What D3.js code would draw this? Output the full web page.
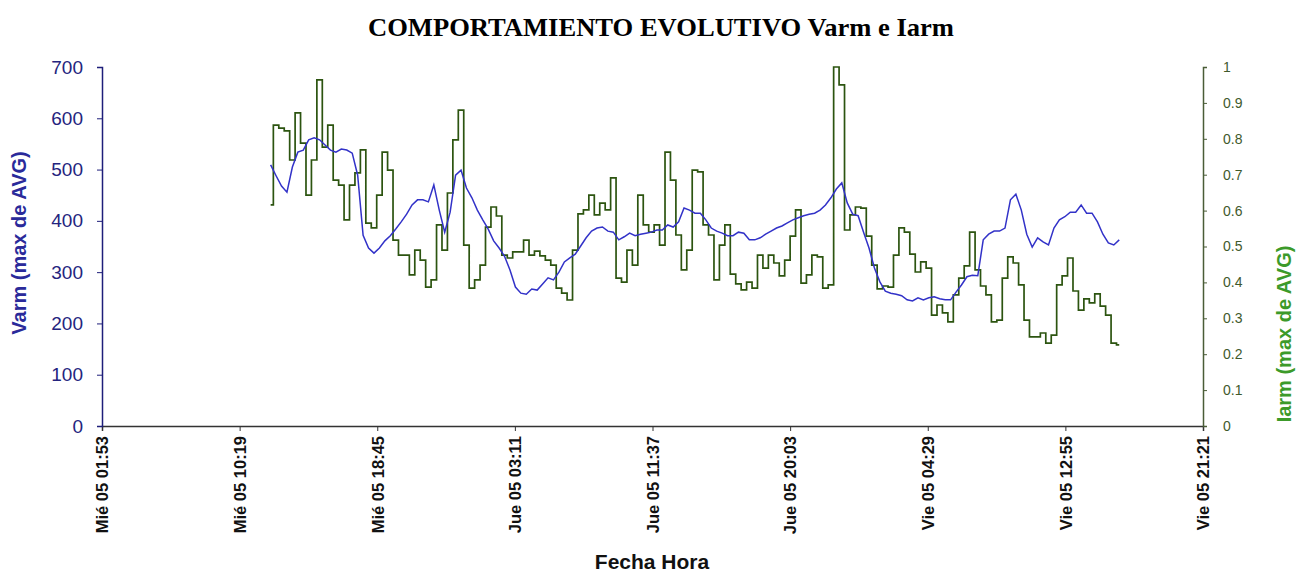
<!DOCTYPE html>
<html>
<head>
<meta charset="utf-8">
<script src="https://cdn.jsdelivr.net/npm/d3@7"></script>
<style>
  body { margin: 0; background: #fff; }
  text { font-family: "Liberation Sans", Arial, sans-serif; }
</style>
</head>
<body>
<svg width="1306" height="573"></svg>
<script>
// x axis ticks (labels as printed on the chart)
const tickLabels = ["Mié 05 01:53", "Mié 05 10:19", "Mié 05 18:45", "Jue 05 03:11", "Jue 05 11:37",
                    "Jue 05 20:03", "Vie 05 04:29", "Vie 05 12:55", "Vie 05 21:21"];
const tickTimes = ["2008-05-07 01:53", "2008-05-07 10:19", "2008-05-07 18:45", "2008-05-08 03:11", "2008-05-08 11:37",
                   "2008-05-08 20:03", "2008-05-09 04:29", "2008-05-09 12:55", "2008-05-09 21:21"];

// samples every 20 minutes, starting here
const seriesStart = "2008-05-07 12:13";
const stepMinutes = 20;

// Varm (max de AVG)
const varm = [509, 488, 468, 456, 505, 534, 538, 558, 562, 558, 548, 538, 534, 540, 538, 532, 489, 372, 347, 337,
              347, 361, 371, 384, 398, 413, 431, 441, 441, 437, 470, 421, 378, 417, 489, 499, 464, 445, 421, 402,
              384, 361, 347, 331, 304, 271, 259, 257, 267, 265, 277, 289, 285, 300, 320, 328, 335, 351, 367, 380,
              386, 388, 380, 378, 363, 369, 376, 371, 374, 376, 378, 382, 382, 392, 388, 398, 425, 421, 415, 415,
              402, 386, 380, 376, 371, 371, 378, 376, 363, 363, 367, 374, 380, 386, 390, 396, 402, 406, 410, 413,
              415, 421, 431, 445, 462, 474, 435, 413, 410, 378, 347, 308, 281, 263, 259, 257, 254, 246, 244, 250,
              246, 250, 252, 248, 246, 246, 261, 275, 291, 294, 293, 363, 374, 380, 380, 386, 441, 452, 421, 374,
              349, 367, 359, 353, 386, 402, 408, 417, 417, 431, 415, 415, 398, 374, 357, 353, 363];

// Iarm (max de AVG)
const iarm = [0.616, 0.838, 0.830, 0.822, 0.741, 0.872, 0.788, 0.643, 0.741, 0.964, 0.777, 0.838, 0.685, 0.671, 0.574,
              0.671, 0.705, 0.769, 0.565, 0.552, 0.643, 0.763, 0.713, 0.518, 0.476, 0.476, 0.421, 0.490, 0.462, 0.387,
              0.407, 0.560, 0.490, 0.649, 0.797, 0.880, 0.504, 0.384, 0.407, 0.448, 0.554, 0.610, 0.585, 0.476, 0.468,
              0.485, 0.485, 0.518, 0.476, 0.487, 0.474, 0.462, 0.448, 0.384, 0.370, 0.351, 0.490, 0.591, 0.602, 0.643,
              0.588, 0.621, 0.602, 0.691, 0.412, 0.401, 0.490, 0.448, 0.643, 0.560, 0.540, 0.560, 0.504, 0.763, 0.685,
              0.532, 0.435, 0.490, 0.713, 0.708, 0.560, 0.532, 0.407, 0.504, 0.560, 0.423, 0.396, 0.379, 0.401, 0.384,
              0.476, 0.440, 0.476, 0.454, 0.418, 0.462, 0.529, 0.602, 0.398, 0.421, 0.476, 0.471, 0.384, 0.393, 1.000,
              0.950, 0.546, 0.588, 0.610, 0.607, 0.529, 0.448, 0.382, 0.390, 0.387, 0.476, 0.552, 0.540, 0.479, 0.429,
              0.457, 0.440, 0.309, 0.337, 0.315, 0.290, 0.365, 0.412, 0.446, 0.540, 0.435, 0.390, 0.365, 0.290, 0.295,
              0.412, 0.471, 0.454, 0.393, 0.295, 0.248, 0.248, 0.259, 0.231, 0.253, 0.393, 0.418, 0.468, 0.376, 0.323,
              0.354, 0.343, 0.368, 0.334, 0.309, 0.231, 0.226];

const varmTicks = [0, 100, 200, 300, 400, 500, 600, 700];
const iarmTicks = [0, 0.1, 0.2, 0.3, 0.4, 0.5, 0.6, 0.7, 0.8, 0.9, 1];

const svg = d3.select("svg");
const margin = {left: 102, right: 103, top: 67, bottom: 147};
const width = +svg.attr("width"), height = +svg.attr("height");
const parse = d3.timeParse("%Y-%m-%d %H:%M");
const ticks = tickTimes.map(parse);
const t0 = parse(seriesStart);
const timeAt = i => d3.timeMinute.offset(t0, i * stepMinutes);

const x = d3.scaleTime()
    .domain([ticks[0], ticks[ticks.length - 1]])
    .range([margin.left, width - margin.right]);
const y = d3.scaleLinear().domain([0, 700]).range([height - margin.bottom, margin.top]);
const y2 = d3.scaleLinear().domain([0, 1]).range([height - margin.bottom, margin.top]);

// title
svg.append("text")
    .attr("x", 661).attr("y", 36)
    .attr("text-anchor", "middle")
    .style("font-family", "'Liberation Serif', 'Times New Roman', serif")
    .style("font-weight", "bold").style("font-size", "25px")
    .attr("textLength", 586).attr("lengthAdjust", "spacingAndGlyphs")
    .text("COMPORTAMIENTO EVOLUTIVO Varm e Iarm");

// lines
const lineV = d3.line()
    .x((d, i) => x(timeAt(i)))
    .y(d => y(d));
const lineI = d3.line()
    .x((d, i) => x(timeAt(i)))
    .y(d => y2(d))
    .curve(d3.curveStep);

svg.append("path").datum(iarm)
    .attr("d", lineI)
    .attr("fill", "none").attr("stroke", "#2c5410").attr("stroke-width", 1.7);
svg.append("path").datum(varm)
    .attr("d", lineV)
    .attr("fill", "none").attr("stroke", "#3232c8").attr("stroke-width", 1.5);

// x axis
const xAxis = svg.append("g")
    .attr("transform", "translate(0," + y(0) + ")")
    .call(d3.axisBottom(x).tickValues(ticks).tickSize(5).tickFormat((d, i) => tickLabels[i]));
xAxis.select(".domain").attr("stroke", "#333").attr("stroke-width", 1.5);
xAxis.selectAll(".tick line").attr("stroke", "#333");
xAxis.selectAll(".tick text")
    .attr("transform", "rotate(-90)")
    .attr("x", -10).attr("y", 0).attr("dy", "0.35em")
    .attr("text-anchor", "end")
    .style("font-size", "16.5px").style("font-weight", "bold").attr("fill", "#111");

// left axis
const yAxis = svg.append("g")
    .attr("transform", "translate(" + margin.left + ",0)")
    .call(d3.axisLeft(y).tickValues(varmTicks).tickSize(5).tickPadding(14));
yAxis.select(".domain").attr("stroke", "#1e1e7a").attr("stroke-width", 1.5);
yAxis.selectAll(".tick line").attr("stroke", "#1e1e7a");
yAxis.selectAll(".tick text").style("font-size", "19px").attr("fill", "#24247e");

// right axis
const y2Axis = svg.append("g")
    .attr("transform", "translate(" + (width - margin.right) + ",0)")
    .call(d3.axisRight(y2).tickValues(iarmTicks).tickSize(4).tickPadding(16).tickFormat(d3.format("")));
y2Axis.select(".domain").attr("stroke", "#4a5d37").attr("stroke-width", 1.5);
y2Axis.selectAll(".tick line").attr("stroke", "#4a5d37");
y2Axis.selectAll(".tick text").style("font-size", "14px").attr("fill", "#3f5a2c");

// axis titles
svg.append("text")
    .attr("transform", "translate(26,243) rotate(-90)")
    .attr("text-anchor", "middle")
    .style("font-size", "20px").style("font-weight", "bold").attr("fill", "#2a2a9a")
    .text("Varm (max de AVG)");
svg.append("text")
    .attr("transform", "translate(1291,334) rotate(-90)")
    .attr("text-anchor", "middle")
    .style("font-size", "20px").style("font-weight", "bold").attr("fill", "#3c9a2a")
    .text("Iarm (max de AVG)");
svg.append("text")
    .attr("x", 652).attr("y", 569)
    .attr("text-anchor", "middle")
    .style("font-size", "21px").style("font-weight", "bold").attr("fill", "#111")
    .text("Fecha Hora");
</script>
</body>
</html>
